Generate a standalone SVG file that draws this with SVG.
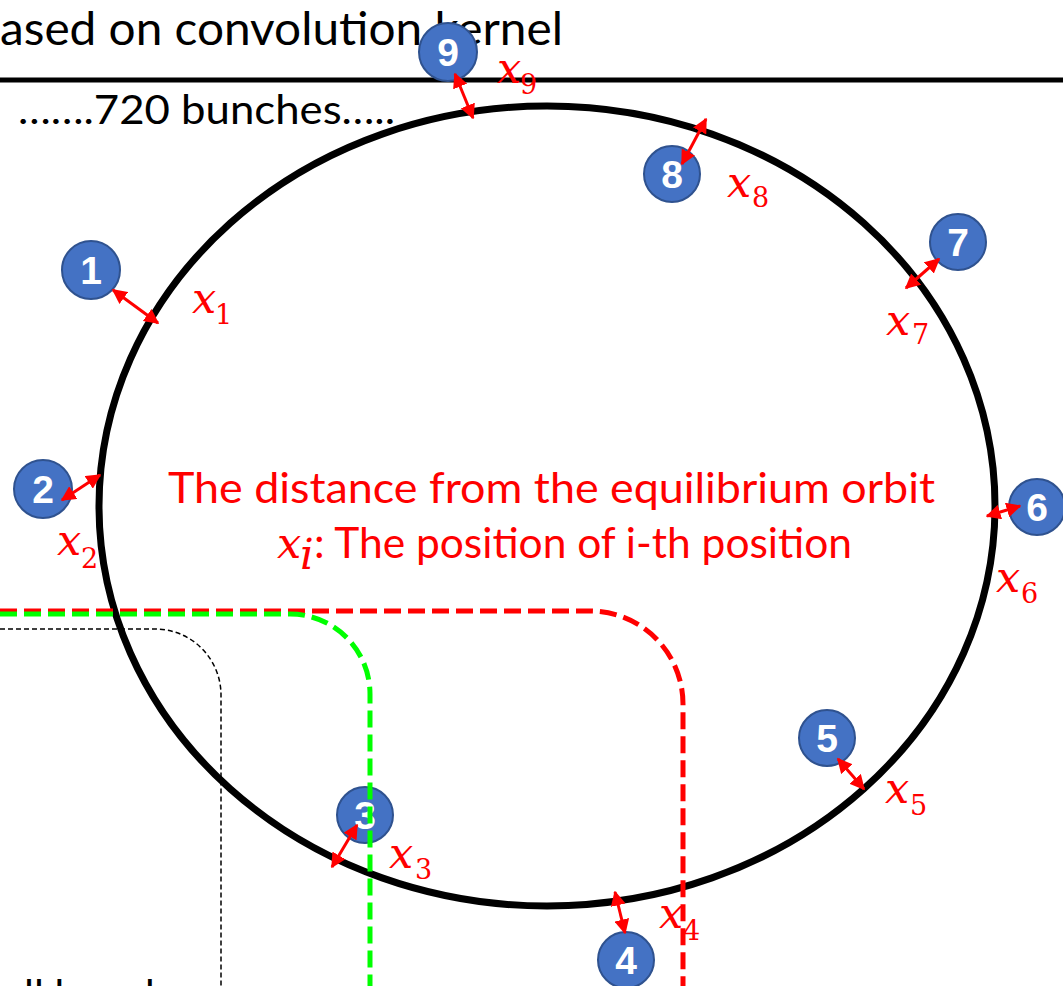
<svg xmlns="http://www.w3.org/2000/svg" width="1063" height="986" viewBox="0 0 1063 986">
<style>
.node circle{fill:#4472C4;stroke:#2F528F;stroke-width:2}
.num{font-family:"Liberation Sans",Arial,sans-serif;font-weight:bold;font-size:39px;fill:#fff;text-anchor:middle}
.blk{font-family:Lato,"Liberation Sans",sans-serif;fill:#000}
.red{font-family:Lato,"Liberation Sans",sans-serif;fill:#FF0000}
.mx{font-family:"DejaVu Serif",serif;font-style:italic;font-size:43px;fill:#FF0000}
.ms{font-family:"DejaVu Serif",serif;font-size:27px;fill:#FF0000}
.arr{stroke:#FF0000;stroke-width:3;fill:none;marker-start:url(#ah);marker-end:url(#ah)}
</style>
<defs>
<marker id="ah" viewBox="0 0 10 10" refX="9" refY="5" markerWidth="5" markerHeight="5" orient="auto-start-reverse" markerUnits="strokeWidth">
<path d="M0,0 L10,5 L0,10 z" fill="#FF0000"/>
</marker>
</defs>
<rect width="1063" height="986" fill="#fff"/>
<text class="blk" x="0" y="45" font-size="46" textLength="563" lengthAdjust="spacingAndGlyphs">ased on convolution kernel</text>
<line x1="0" y1="80" x2="1063" y2="80" stroke="#000" stroke-width="5"/>
<text class="blk" x="18" y="124" font-size="40" textLength="377" lengthAdjust="spacingAndGlyphs">…….720 bunches…..</text>
<text class="blk" x="24" y="1010" font-size="42">ll bunches</text>
<ellipse cx="547" cy="506" rx="448" ry="400" fill="none" stroke="#000" stroke-width="7"/>
<text class="red" x="168" y="503" font-size="42" textLength="767" lengthAdjust="spacingAndGlyphs">The distance from the equilibrium orbit</text>
<text class="mx" x="277" y="558">x</text>
<text class="mx" x="300" y="569" font-size="26">i</text>
<text class="red" x="314" y="558" font-size="42" textLength="538" lengthAdjust="spacingAndGlyphs">: The position of i-th position</text>
<g id="labels">
<text class="mx" x="192" y="313">x</text><text class="ms" x="215" y="324">1</text>
<text class="mx" x="57" y="555">x</text><text class="ms" x="81" y="568">2</text>
<text class="mx" x="389" y="868">x</text><text class="ms" x="415" y="879">3</text>
<text class="mx" x="659" y="928">x</text><text class="ms" x="683" y="940">4</text>
<text class="mx" x="885" y="803">x</text><text class="ms" x="910" y="815">5</text>
<text class="mx" x="996" y="592">x</text><text class="ms" x="1021" y="603">6</text>
<text class="mx" x="886" y="335">x</text><text class="ms" x="912" y="344">7</text>
<text class="mx" x="727" y="197">x</text><text class="ms" x="752" y="207">8</text>
<text class="mx" x="497" y="83">x</text><text class="ms" x="520" y="94">9</text>
</g>
<g id="node1" class="node"><circle cx="91" cy="270" r="29"/><text class="num" x="91" y="284">1</text></g>
<g id="node2" class="node"><circle cx="43" cy="489" r="29"/><text class="num" x="43" y="503">2</text></g>
<g id="node3" class="node"><circle cx="365" cy="815" r="28"/><text class="num" x="365" y="829">3</text></g>
<g id="node4" class="node"><circle cx="626" cy="960" r="28"/><text class="num" x="626" y="974">4</text></g>
<g id="node5" class="node"><circle cx="827" cy="738" r="28"/><text class="num" x="827" y="752">5</text></g>
<g id="node6" class="node"><circle cx="1037" cy="507" r="28"/><text class="num" x="1037" y="521">6</text></g>
<g id="node7" class="node"><circle cx="958" cy="242" r="28"/><text class="num" x="958" y="256">7</text></g>
<g id="node8" class="node"><circle cx="672" cy="174" r="28"/><text class="num" x="672" y="188">8</text></g>
<g id="node9" class="node"><circle cx="448" cy="52" r="29"/><text class="num" x="448" y="66">9</text></g>
<g id="connectors">
<line class="arr" x1="113" y1="290" x2="158" y2="323"/>
<line class="arr" x1="62" y1="500" x2="100" y2="475"/>
<line class="arr" x1="357" y1="825" x2="332" y2="867"/>
<line class="arr" x1="615" y1="892" x2="625" y2="933"/>
<line class="arr" x1="838" y1="759" x2="864" y2="789"/>
<line class="arr" x1="987" y1="516" x2="1020" y2="506"/>
<line class="arr" x1="906" y1="288" x2="939" y2="259"/>
<line class="arr" x1="706" y1="119" x2="682" y2="164"/>
<line class="arr" x1="455" y1="74" x2="473" y2="118"/>
</g>
<g id="paths" fill="none">
<path d="M0,629 H155 A66,66 0 0 1 221,695 V986" stroke="#000" stroke-width="1.5" stroke-dasharray="5,3"/>
<path d="M0,611 H590 A93,93 0 0 1 683,704 V986" stroke="#FF0000" stroke-width="5" stroke-dasharray="17,7"/>
<path d="M0,614 H290 A80,80 0 0 1 370,694 V986" stroke="#00FF00" stroke-width="5" stroke-dasharray="17,7"/>
</g>
</svg>
